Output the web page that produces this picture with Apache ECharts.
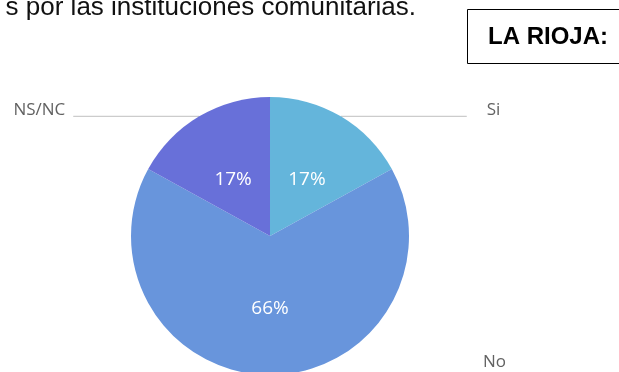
<!DOCTYPE html>
<html>
<head>
<meta charset="utf-8">
<script src="https://cdn.jsdelivr.net/npm/echarts@6/dist/echarts.min.js"></script>
<style>
  html, body { margin: 0; padding: 0; background: #ffffff; }
  #chart { width: 619px; height: 372px; }
</style>
</head>
<body>
<div id="chart"></div>
<script>
// Survey answers for La Rioja
const categories = ['Si', 'No', 'NS/NC'];
const values = [17, 66, 17];

// Slice colours, in category order
const sliceColors = ['#64b5db', '#6895dc', '#6870d9'];

// Leader-line tuning for the outer name labels
const leaderLength = { 'Si': 126, 'No': 192, 'NS/NC': 126 };
const leaderGap = { 'Si': 20, 'No': 21, 'NS/NC': 8 };
// Names sit above their leader line: twice the lift, used as line height of a two-line label
const labelLift = { 'Si': 13, 'No': 25, 'NS/NC': 13 };
// Percentages in the small slices sit a little further out
const percentDrop = { 'Si': 12, 'No': 0, 'NS/NC': 12 };

const pieCenter = [270, 236];
const pieRadius = 139;

const sliceData = categories.map((name, i) => ({
  name: name,
  value: values[i],
  itemStyle: { color: sliceColors[i] },
  label: percentDrop[name] ? { lineHeight: percentDrop[name] } : {}
}));

const nameData = categories.map((name, i) => ({
  name: name,
  value: values[i],
  label: {
    distanceToLabelLine: leaderGap[name],
    lineHeight: labelLift[name]
  },
  labelLine: { length2: leaderLength[name] }
}));

const chart = echarts.init(document.getElementById('chart'), null, { renderer: 'canvas' });

chart.setOption({
  animation: false,
  backgroundColor: '#ffffff',
  graphic: [
    {
      type: 'text',
      right: 619 - 416,
      top: -5,
      style: {
        text: 's por las instituciones comunitarias.',
        font: '26px "Liberation Sans", Arial, sans-serif',
        fill: '#111111'
      }
    },
    {
      type: 'rect',
      shape: { x: 467.5, y: 9.5, width: 170, height: 54 },
      style: { fill: '#ffffff', stroke: '#000000', lineWidth: 1 }
    },
    {
      type: 'text',
      x: 488,
      y: 37,
      style: {
        text: 'LA RIOJA:',
        font: 'bold 24px "Liberation Sans", Arial, sans-serif',
        fill: '#000000',
        verticalAlign: 'middle'
      }
    }
  ],
  series: [
    {
      type: 'pie',
      center: pieCenter,
      radius: pieRadius,
      startAngle: 90,
      clockwise: true,
      silent: true,
      avoidLabelOverlap: false,
      data: sliceData,
      itemStyle: { borderWidth: 0 },
      label: {
        show: true,
        position: 'inside',
        formatter: p => (percentDrop[p.name] ? '\u00a0\n' : '') + Math.round(p.percent) + '%',
        color: '#ffffff',
        fontFamily: '"Open Sans", sans-serif',
        fontSize: 19
      },
      labelLine: { show: false }
    },
    {
      type: 'pie',
      center: pieCenter,
      radius: pieRadius,
      startAngle: 90,
      clockwise: true,
      silent: true,
      avoidLabelOverlap: false,
      data: nameData,
      itemStyle: { color: 'rgba(0,0,0,0)', borderWidth: 0 },
      label: {
        show: true,
        position: 'outside',
        alignTo: 'none',
        formatter: '{b}\n\u00a0',
        color: '#626262',
        fontFamily: '"Open Sans", sans-serif',
        fontSize: 17
      },
      labelLine: {
        show: true,
        length: 0,
        length2: 126,
        lineStyle: { color: '#cccccc', width: 1.2 }
      }
    }
  ]
});
</script>
</body>
</html>
